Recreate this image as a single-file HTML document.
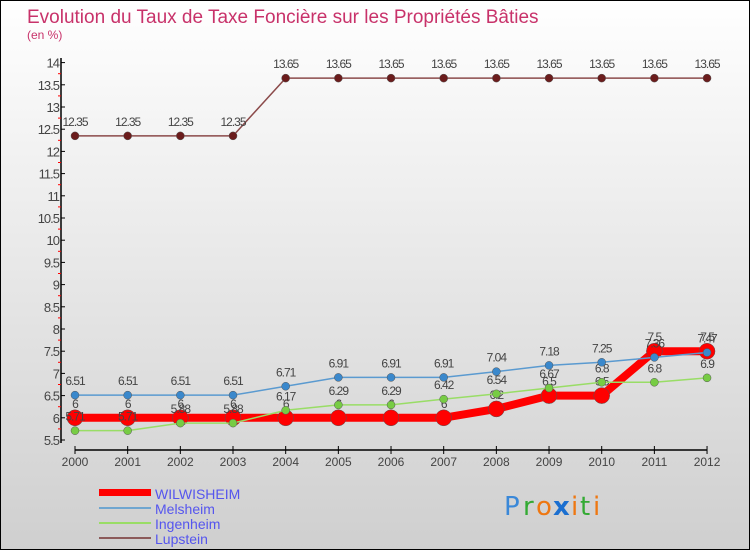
<!DOCTYPE html>
<html><head><meta charset="utf-8"><style>
body{margin:0;width:750px;height:550px;overflow:hidden;font-family:"Liberation Sans",sans-serif}
svg{display:block}
</style></head><body>
<svg id="chart" width="750" height="550" xmlns="http://www.w3.org/2000/svg">
<defs><linearGradient id="bg" x1="0" y1="0" x2="0" y2="1"><stop offset="0" stop-color="#ffffff"/><stop offset="1" stop-color="#cfcfcf"/></linearGradient></defs>
<rect x="0" y="0" width="750" height="550" fill="url(#bg)" stroke="#000" stroke-width="2"/>
<text x="27" y="23" font-size="19" fill="#c8326a">Evolution du Taux de Taxe Foncière sur les Propriétés Bâties</text>
<text x="27" y="39" font-size="12" fill="#c8326a">(en %)</text>
<g id="axes"></g>
<g id="series"></g>
<g id="legend">
<rect x="99" y="489" width="52" height="7" fill="#f00"/>
<text x="155" y="499" font-size="14" fill="#5555ee">WILWISHEIM</text>
<rect x="99" y="507" width="52" height="2" fill="#6fa6d0"/>
<text x="155" y="514" font-size="14" fill="#5555ee">Melsheim</text>
<rect x="99" y="522" width="52" height="2" fill="#99dd66"/>
<text x="155" y="529" font-size="14" fill="#5555ee">Ingenheim</text>
<rect x="99" y="537" width="52" height="2" fill="#8b5a5a"/>
<text x="155" y="544" font-size="14" fill="#5555ee">Lupstein</text>
</g>
<g font-size="26" font-family="'DejaVu Sans',sans-serif">
<text x="504" y="515" fill="#3a88d8">P</text><text x="523" y="515" fill="#33aa33">r</text><text x="536" y="515" fill="#ee7711">o</text><text x="553" y="515" fill="#1b6fd0" font-weight="bold">x</text><text x="571" y="515" fill="#ee7711">i</text><text x="580" y="515" fill="#33aa33">t</text><text x="593" y="515" fill="#ee7711">i</text>
</g>
</svg>
<script>
const years=[2000,2001,2002,2003,2004,2005,2006,2007,2008,2009,2010,2011,2012];
const wilwisheim=[6,6,6,6,6,6,6,6,6.2,6.5,6.5,7.5,7.5];
const melsheim=[6.51,6.51,6.51,6.51,6.71,6.91,6.91,6.91,7.04,7.18,7.25,7.36,7.47];
const ingenheim=[5.71,5.71,5.88,5.88,6.17,6.29,6.29,6.42,6.54,6.67,6.8,6.8,6.9];
const lupstein=[12.35,12.35,12.35,12.35,13.65,13.65,13.65,13.65,13.65,13.65,13.65,13.65,13.65];
const yTicks=[5.5,6,6.5,7,7.5,8,8.5,9,9.5,10,10.5,11,11.5,12,12.5,13,13.5,14];
const NS="http://www.w3.org/2000/svg";
const x=i=>75+i*52.67;
const y=v=>440-(v-5.5)*44.4;
function mk(tag,attrs,parent){const e=document.createElementNS(NS,tag);for(const k in attrs)e.setAttribute(k,attrs[k]);parent.appendChild(e);return e;}
const ax=document.getElementById('axes');
let l=mk('line',{x1:61,y1:58,x2:61,y2:443,stroke:'#000','stroke-width':1.5},ax);


for(let v=5.5;v<14;v+=0.25){if(Math.abs(v*2-Math.round(v*2))>0.01){let t=mk('line',{x1:58,y1:y(v),x2:61,y2:y(v),stroke:'#f00'},ax);}}
yTicks.forEach(v=>{mk('line',{x1:61,y1:y(v),x2:65,y2:y(v),stroke:'#000'},ax);
let t=mk('text',{x:59,y:y(v)+5,'font-size':13,fill:'#444','text-anchor':'end','letter-spacing':'-1'},ax);t.textContent=String(v);

});
let xl=mk('line',{x1:x(0),y1:450,x2:x(12),y2:450,stroke:'#000','stroke-width':1.5},ax);


years.forEach((yr,i)=>{mk('line',{x1:x(i),y1:446,x2:x(i),y2:454,stroke:'#000'},ax);
let t=mk('text',{x:x(i),y:466,'font-size':12,fill:'#444','text-anchor':'middle'},ax);t.textContent=yr;

});
const sg=document.getElementById('series');
function draw(name,vals,color,w,r,dot,labelDy){
const g=mk('g',{},sg);


let p=mk('polyline',{points:vals.map((v,i)=>x(i)+','+y(v)).join(' '),fill:'none',stroke:color,'stroke-width':w},g);


vals.forEach((v,i)=>{let c=mk('circle',{cx:x(i),cy:y(v),r:r,fill:dot,stroke:'#555','stroke-width':0.5},g);


let t=mk('text',{x:x(i),y:y(v)+labelDy,'font-size':12,fill:'#444','text-anchor':'middle','letter-spacing':'-1'},g);t.textContent=String(v);

});
}
draw('lupstein',lupstein,'#8b4a4a',1.5,4,'#6b1c1c',-10);
draw('wilwisheim',wilwisheim,'#f00',8,8,'#f00',-10);
draw('ingenheim',ingenheim,'#99dd66',1.5,4,'#77cc44',-10);
draw('melsheim',melsheim,'#5a9ad0',1.5,4,'#3a88cc',-10);
</script>
</body></html>
